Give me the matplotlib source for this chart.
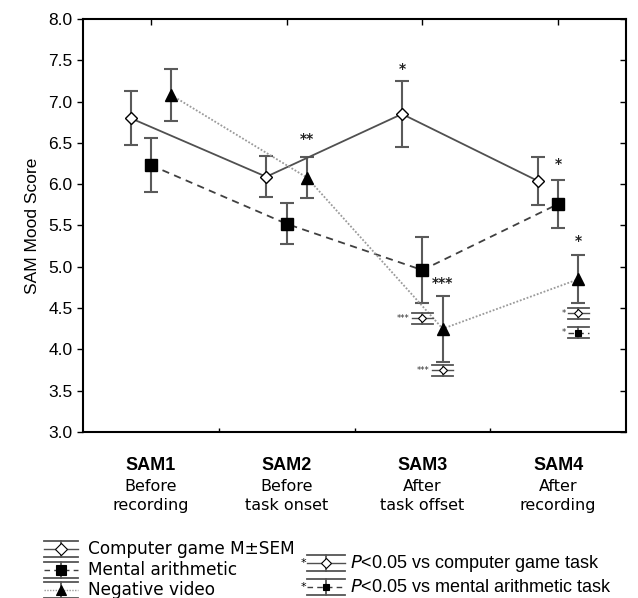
import matplotlib.pyplot as plt
from matplotlib.lines import Line2D

# --- data ---
categories = ['SAM1', 'SAM2', 'SAM3', 'SAM4']
subtitles = ['Before\nrecording', 'Before\ntask onset', 'After\ntask offset', 'After\nrecording']

game_mean = [6.80, 6.09, 6.85, 6.04]
game_sem = [0.33, 0.25, 0.40, 0.29]
math_mean = [6.23, 5.52, 4.96, 5.76]
math_sem = [0.33, 0.25, 0.40, 0.29]
video_mean = [7.08, 6.08, 4.25, 4.85]
video_sem = [0.32, 0.25, 0.40, 0.29]

# stars above the bars: (category index, series, y, text)
stars = [(1, 'video', 6.55, '**'), (2, 'game', 7.40, '*'), (2, 'video', 4.80, '***'),
         (3, 'math', 6.24, '*'), (3, 'video', 5.31, '*')]
# small significance glyphs: (category index, series column, y, glyph kind, text)
sig_glyphs = [(2, 'math', 4.38, 'game', '***'), (2, 'video', 3.75, 'game', '***'),
              (3, 'video', 4.44, 'game', '*'), (3, 'video', 4.20, 'math', '*')]

W, H = 638, 598
offsets = {'game': -0.15, 'math': 0.0, 'video': 0.15}
styles = {
    'game': dict(ls='-', color='#505050', marker='D', mfc='white', mec='black', ms=6),
    'math': dict(ls=(0, (4, 3)), color='#404040', marker='s', mfc='black', mec='black', ms=8),
    'video': dict(ls=(0, (1, 1)), color='#9a9a9a', marker='^', mfc='black', mec='black', ms=8),
}
ebar_color = '#5a5a5a'

fig = plt.figure(figsize=(W / 100, H / 100), dpi=100)
ax = fig.add_axes([83 / W, 1 - 432 / H, (626 - 83) / W, (432 - 19) / H])

x = [1, 2, 3, 4]
for key, means, sems in [('game', game_mean, game_sem), ('math', math_mean, math_sem),
                         ('video', video_mean, video_sem)]:
    st = styles[key]
    xs = [v + offsets[key] for v in x]
    ax.errorbar(xs, means, yerr=sems, fmt='none', ecolor=ebar_color, elinewidth=1.5,
                capsize=5, capthick=1.5, zorder=2)
    ax.plot(xs, means, linestyle=st['ls'], color=st['color'], lw=1.3, zorder=3)
    ax.plot(xs, means, linestyle='none', marker=st['marker'], mfc=st['mfc'],
            mec=st['mec'], ms=st['ms'], mew=1.0, zorder=4)

for i, key, y, txt in stars:
    ax.text(x[i] + offsets[key], y, txt, ha='center', va='center', fontsize=10,
            fontweight='bold', color='#222222')

ax.set_xlim(0.5, 4.5)
ax.set_ylim(3.0, 8.0)
yt = [3.0 + 0.5 * k for k in range(11)]
ax.set_yticks(yt)
ax.set_yticklabels([f'{v:.1f}' for v in yt], family='Liberation Sans', fontsize=12.5)
ax.tick_params(axis='y', direction='out', length=4, width=1, right=False)
ax.set_xticks([1.5, 2.5, 3.5])
ax.set_xticklabels([])
ax.tick_params(axis='x', direction='in', length=3, width=1, top=False)
secx = ax.secondary_xaxis('top')
secx.set_xticks(x)
secx.set_xticklabels([])
secx.tick_params(direction='in', length=4, width=1)
secx.spines['top'].set_visible(False)
secy = ax.secondary_yaxis('right')
secy.set_yticks(yt)
secy.set_yticklabels([])
secy.tick_params(direction='in', length=4, width=1)
secy.spines['right'].set_visible(False)
for s in ax.spines.values():
    s.set_linewidth(1.5)
ax.set_ylabel('SAM Mood Score', family='Liberation Sans', fontsize=12.5, labelpad=6)

# category labels under the axis
for i, (c, sub) in enumerate(zip(categories, subtitles)):
    ax.text(x[i], -0.08, c, transform=ax.get_xaxis_transform(), ha='center', va='center',
            family='Liberation Sans', fontweight='bold', fontsize=13)
    ax.text(x[i], -0.155, sub, transform=ax.get_xaxis_transform(), ha='center', va='center',
            family='DejaVu Sans', fontsize=11.5, linespacing=1.3)


def glyph(cx, cy, w, h, kind, ms):
    # small errorbar-like symbol, cx/cy in display pixels (bottom-left origin)
    st = styles[kind]
    def fl(xs, ys, **kw):
        fig.add_artist(Line2D([v / W for v in xs], [v / H for v in ys], transform=fig.transFigure, **kw))
    for dy in (h, -h):
        fl([cx - w / 2, cx + w / 2], [cy + dy, cy + dy], color='#555555', lw=1.3)
    fl([cx, cx], [cy - h, cy + h], color='#555555', lw=1.3)
    fl([cx - w / 2, cx + w / 2], [cy, cy], color=st['color'], lw=1.0, ls=st['ls'])
    fl([cx], [cy], ls='none', marker=st['marker'], mfc=st['mfc'], mec=st['mec'], ms=ms, mew=0.8)


fig.canvas.draw()
for i, key, y, kind, txt in sig_glyphs:
    px, py = ax.transData.transform((x[i] + offsets[key], y))
    glyph(px, py, 21, 5.5, kind, 4)
    fig.text((px - 13) / W, py / H, txt, ha='right', va='center', fontsize=6, color='#333333')

# legend, left block
left_rows = [('game', 'Computer game M\u00b1SEM', 549), ('math', 'Mental arithmetic', 570),
             ('video', 'Negative video', 590)]
for kind, label, py in left_rows:
    glyph(61, H - py, 34, 8, kind, 6 if kind == 'game' else 7)
    fig.text(88 / W, 1 - py / H, label, ha='left', va='center', family='DejaVu Sans', fontsize=12.2)

# legend, right block
right_rows = [('game', 'computer game task', 563), ('math', 'mental arithmetic task', 587)]
for kind, label, py in right_rows:
    glyph(326, H - py, 38, 8, kind, 5)
    fig.text(303 / W, 1 - py / H, '*', ha='center', va='center', fontsize=8)
    fig.text(350 / W, 1 - py / H, '$\\it{P}$<0.05 vs ' + label, ha='left', va='center',
             family='Liberation Sans', fontsize=13)

fig.savefig('out.png', dpi=100)
